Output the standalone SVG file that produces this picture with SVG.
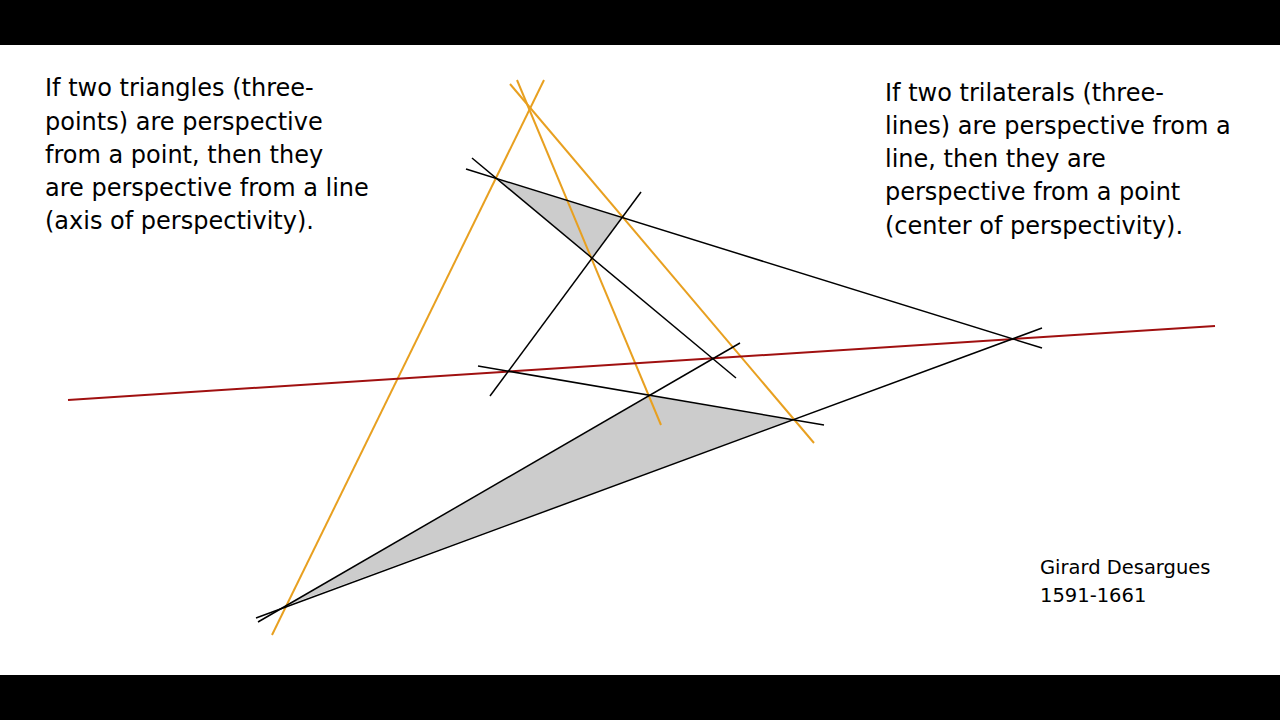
<svg xmlns="http://www.w3.org/2000/svg" width="1280" height="720" viewBox="0 0 1280 720">
<style>
.o{stroke:#e8a020;stroke-width:2;fill:none}
.k{stroke:#000;stroke-width:1.5;fill:none}
.t{font-family:"DejaVu Sans",sans-serif;font-size:24px;fill:#000}
.s{font-family:"DejaVu Sans",sans-serif;font-size:19.5px;fill:#000}
</style>
<rect width="1280" height="720" fill="#fff"/>
<rect width="1280" height="45" fill="#000"/>
<rect y="675" width="1280" height="45" fill="#000"/>
<g id="fills" fill="#cccccc" stroke="none">
<polygon points="497,179 622,218 592,257"/>
<polygon points="285,606 650,396 793,420"/>
</g>
<g id="connectors">
<line class="o" x1="544" y1="80" x2="272" y2="635"/>
<line class="o" x1="517" y1="80" x2="661" y2="425"/>
<line class="o" x1="510" y1="84" x2="814" y2="443"/>
<line x1="68" y1="400" x2="1215" y2="326" stroke="#a01010" stroke-width="2"/>
<line class="k" x1="472" y1="158" x2="736" y2="378"/>
<line class="k" x1="466" y1="169" x2="1042" y2="348"/>
<line class="k" x1="641" y1="192" x2="490" y2="396"/>
<line class="k" x1="258" y1="622" x2="740" y2="343"/>
<line class="k" x1="478" y1="366" x2="824" y2="425"/>
<line class="k" x1="256" y1="618" x2="1042" y2="328"/>
</g>
<g id="text-left">
<text class="t" x="45" y="96">If two triangles (three-</text>
<text class="t" x="45" y="130">points) are perspective</text>
<text class="t" x="45" y="163">from a point, then they</text>
<text class="t" x="45" y="196">are perspective from a line</text>
<text class="t" x="45" y="229">(axis of perspectivity).</text>
</g>
<g id="text-right">
<text class="t" x="885" y="101">If two trilaterals (three-</text>
<text class="t" x="885" y="134">lines) are perspective from a</text>
<text class="t" x="885" y="167">line, then they are</text>
<text class="t" x="885" y="200">perspective from a point</text>
<text class="t" x="885" y="234">(center of perspectivity).</text>
</g>
<g id="sig">
<text class="s" x="1040" y="574">Girard Desargues</text>
<text class="s" x="1040" y="602">1591-1661</text>
</g>
</svg>
